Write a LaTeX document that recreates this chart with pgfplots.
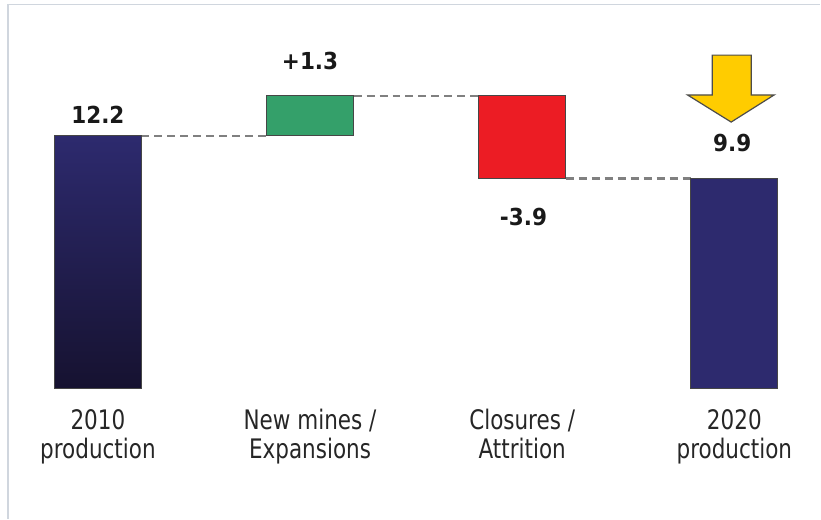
\documentclass[border=0pt]{standalone}
\usepackage{pgfplots}
\pgfplotsset{compat=1.18}
\usepackage{fontspec}
\setmainfont{DejaVu Sans}
\newfontfamily\catfont{DejaVu Sans}[FakeStretch=0.8]
\newfontfamily\valfont{DejaVu Sans}[FakeStretch=0.92]
\definecolor{navy}{RGB}{45,42,110}
\definecolor{navydark}{RGB}{22,18,48}
\definecolor{bargreen}{RGB}{52,160,106}
\definecolor{barred}{RGB}{236,28,36}
\definecolor{arrowyellow}{RGB}{255,204,0}
\definecolor{edge}{RGB}{70,70,70}
\definecolor{dashgray}{RGB}{128,128,128}
\definecolor{framegray}{RGB}{208,214,222}
\pgfplotsset{common/.style={width=821bp, height=519bp, scale only axis,
  xmin=-0.4615, xmax=3.405, ymin=-6.268, ymax=18.756, clip=false}}
\begin{document}
\begin{tikzpicture}
\begin{axis}[common,
  axis line style={draw=none}, ytick=\empty,
  xtick={0,1,2,3}, major tick length=0pt,
  xticklabels={{2010\\production},{New mines /\\Expansions},{Closures /\\Attrition},{2020\\production}},
  xticklabel style={align=center, font=\catfont\fontsize{27}{29}\selectfont, text=black!85,
    anchor=north, yshift=113bp},
  bar width=0.41, bar shift=0pt]
% frame
\draw[framegray, line width=1.5bp] (rel axis cs:0.00974,0) -- (rel axis cs:0.00974,0.9913) -- (rel axis cs:1,0.9913);
% connectors
\addplot[sharp plot, no marks, dashgray, line width=2.8bp, dash pattern=on 8bp off 5bp]
  coordinates {(0.205,12.2) (0.795,12.2)};
\addplot[sharp plot, no marks, dashgray, line width=2.8bp, dash pattern=on 8bp off 5bp]
  coordinates {(1.205,14.13) (1.795,14.13)};
\addplot[sharp plot, no marks, dashgray, line width=2.8bp, dash pattern=on 8bp off 5bp]
  coordinates {(2.205,10.13) (2.795,10.13)};
% totals
\addplot[ybar, draw=edge, line width=1bp, top color=navy, bottom color=navydark]
  coordinates {(0,12.2)};
\addplot[ybar, draw=edge, line width=1bp, fill=navy]
  coordinates {(3,10.13)};
% arrow
\addplot[sharp plot, no marks, fill=arrowyellow, draw=black!70, line width=1.2bp]
  coordinates {(2.896,16.10) (3.080,16.10) (3.080,14.18) (3.188,14.18) (2.985,12.87) (2.779,14.18) (2.896,14.18)} -- cycle;
% value labels
\node[font=\valfont\bfseries\fontsize{23.5}{25}\selectfont, text=black!90] at (axis cs:0,13.24) {12.2};
\node[font=\valfont\bfseries\fontsize{23.5}{25}\selectfont, text=black!90] at (axis cs:1,15.81) {+1.3};
\node[font=\valfont\bfseries\fontsize{23.5}{25}\selectfont, text=black!90] at (axis cs:2.006,8.27) {-3.9};
\node[font=\valfont\bfseries\fontsize{23.5}{25}\selectfont, text=black!90] at (axis cs:2.99,11.88) {9.9};
\end{axis}
\begin{axis}[common, hide axis, ybar stacked, bar width=0.41]
\addplot[draw=none, fill=none] coordinates {(1,12.2) (2,10.13)};
\addplot[fill=bargreen, draw=edge, line width=1bp] coordinates {(1,1.93) (2,0)};
\addplot[fill=barred, draw=edge, line width=1bp] coordinates {(1,0) (2,4.0)};
\end{axis}
\end{tikzpicture}
\end{document}
